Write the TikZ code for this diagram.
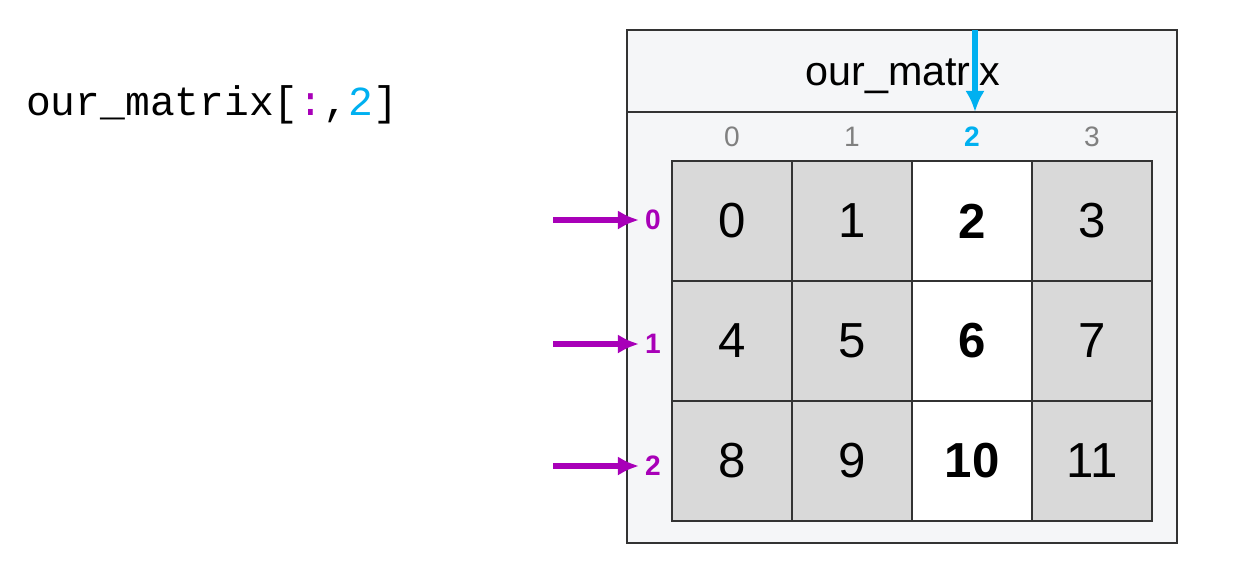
\documentclass[tikz,border=0pt]{standalone}
\usepackage{fontspec}
\setmainfont{Liberation Sans}
\setmonofont{Liberation Mono}
\usetikzlibrary{positioning,arrows.meta}
\definecolor{panelgray}{HTML}{F5F6F8}
\definecolor{cellgray}{HTML}{D9D9D9}
\definecolor{rowmagenta}{HTML}{A800B8}
\definecolor{colblue}{HTML}{00B0F0}
\definecolor{idxgray}{HTML}{808080}

\begin{document}
\begin{tikzpicture}[x=0.02cm,y=-0.02cm]
        \tikzstyle{cell}=[draw=black!80,thick,minimum width=2.4cm,minimum height=2.4cm,inner sep=0pt,font=\fontsize{28}{30}\selectfont]
        \tikzstyle{colidx}=[text=idxgray,font=\fontsize{16}{18}\selectfont]
        \tikzstyle{rowidx}=[text=rowmagenta,font=\bfseries\fontsize{16}{18}\selectfont]
        \tikzstyle{selarrow}=[-{Latex[length=12pt,width=11pt]},line width=3pt]
        \useasboundingbox (0,0) rectangle (1234,572);

        % Panel
        \node[draw=black!80,thick,fill=panelgray,minimum width=11cm,minimum height=10.26cm,inner sep=0pt] (panel) at (902,286.5) {};
        \draw[black!80,thick] (627,112) -- (1177,112);
        \node[font=\fontsize{23.5}{26}\selectfont] (title) at (903,75) {our\_matrix};

        % Code
        \node[anchor=west,font=\ttfamily\fontsize{23.5}{26}\selectfont] (code) at (20,105) {our\_matrix[{\color{rowmagenta}:},{\color{colblue}2}]};

        % Cells
        \foreach \r in {0,1,2}{
            \foreach \c in {0,1,2,3}{
                \pgfmathtruncatemacro{\v}{4*\r+\c}
                \ifnum\c=2
                    \node[cell,fill=white,font=\bfseries\fontsize{28}{30}\selectfont] (c\r\c) at (732+120*\c,221+120*\r) {\v};
                \else
                    \node[cell,fill=cellgray] (c\r\c) at (732+120*\c,221+120*\r) {\v};
                \fi
            }
        }

        % Column indices
        \foreach \c in {0,1,3}{
            \node[colidx] (col\c) at (732+120*\c,137) {\c};
        }
        \node[colidx,text=colblue,font=\bfseries\fontsize{16}{18}\selectfont] (col2) at (972,137) {2};

        % Row indices and arrows
        \foreach \r/\y in {0/220,1/344,2/466}{
            \node[rowidx] (row\r) at (653,\y) {\r};
            \coordinate (tail\r) at (553,\y);
            \draw[selarrow,rowmagenta] (tail\r) -- (row\r.west);
        }

        % Column arrow
        \coordinate (coltop) at (975,30);
        \coordinate (colend) at (975,112);
        \draw[selarrow,colblue] (coltop) -- (colend);
    \end{tikzpicture}
\end{document}
